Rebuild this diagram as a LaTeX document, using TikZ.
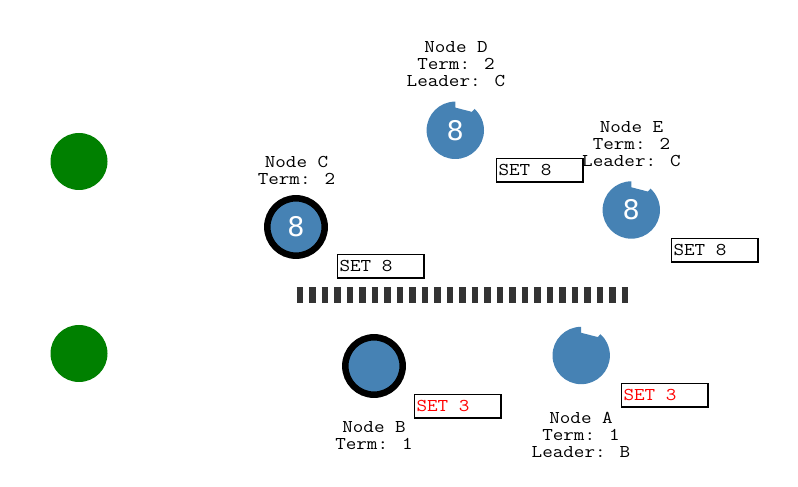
\documentclass[tikz,border=0pt]{standalone}
\usepackage{fontspec}
\newfontfamily\monofont{Latin Modern Mono}[FakeStretch=1.14]
\newfontfamily\numfont{DejaVu Sans}
\usepackage{tikz}
\definecolor{steel}{HTML}{4682B4}
\definecolor{leafgreen}{HTML}{008000}
\definecolor{bargray}{HTML}{333333}
\definecolor{setred}{HTML}{FF0000}
\newcommand{\settext}[1]{\makebox[82pt][l]{#1}}
\tikzset{
  lbl/.style={font=\monofont\fontsize{18}{17}\selectfont, align=center, inner sep=0pt, anchor=base},
  num/.style={font=\numfont\fontsize{27}{30}\selectfont, text=white, inner sep=0pt},
  setbox/.style={draw=black, line width=1pt, anchor=south west, minimum height=23pt,
    inner xsep=2pt, inner ysep=0pt, font=\monofont\fontsize{18}{20}\selectfont},
  ring/.style={fill=steel, draw=black, line width=6.5pt},
}

\begin{document}
\begin{tikzpicture}[x=1pt,y=1pt]

    \useasboundingbox (0,0) rectangle (798,487);

    \fill[leafgreen] (79,325.5) circle[radius=28.5];
    \fill[leafgreen] (79,133.5) circle[radius=28.5];

    \draw[bargray, line width=16pt, dash pattern=on 6.7pt off 5.8pt] (296.7,192) -- (628.4,192);

    \draw[ring] (296,260) circle[radius=28.7];
    \draw[ring] (374,121) circle[radius=28.7];

    \foreach \cx/\cy in {455.3/356.7, 631.3/277, 581.2/131.5}
        \fill[steel, shift={(\cx,\cy)}] (90:28.7) arc[start angle=90, end angle=408, radius=28.7]
            -- (48:24.8) -- (90:22.7) -- cycle;

    \node[num] (numC) at (296,260) {8};
    \node[num] (numD) at (455.3,356.7) {8};
    \node[num] (numE) at (631.3,277) {8};

    % base anchor sits on the last line
    \node[lbl] (lblD) at (456,400) {Node D\\Term: 2\\Leader: C};
    \node[lbl] (lblC) at (296.5,302) {Node C\\Term: 2};
    \node[lbl] (lblE) at (631.5,320.3) {Node E\\Term: 2\\Leader: C};
    \node[lbl] (lblA) at (581,29.3) {Node A\\Term: 1\\Leader: B};
    \node[lbl] (lblB) at (374,37) {Node B\\Term: 1};

    \node[setbox] (setD) at (496,305) {\settext{SET 8}};
    \node[setbox] (setC) at (337,209) {\settext{SET 8}};
    \node[setbox] (setE) at (671,225) {\settext{SET 8}};
    \node[setbox, text=setred] (setA) at (621,80) {\settext{SET 3}};
    \node[setbox, text=setred] (setB) at (414,69) {\settext{SET 3}};
    \foreach \s in {setD,setC,setE,setA,setB}
        \draw[line width=2pt] (\s.south west) -- (\s.south east) -- (\s.north east);

\end{tikzpicture}
\end{document}
